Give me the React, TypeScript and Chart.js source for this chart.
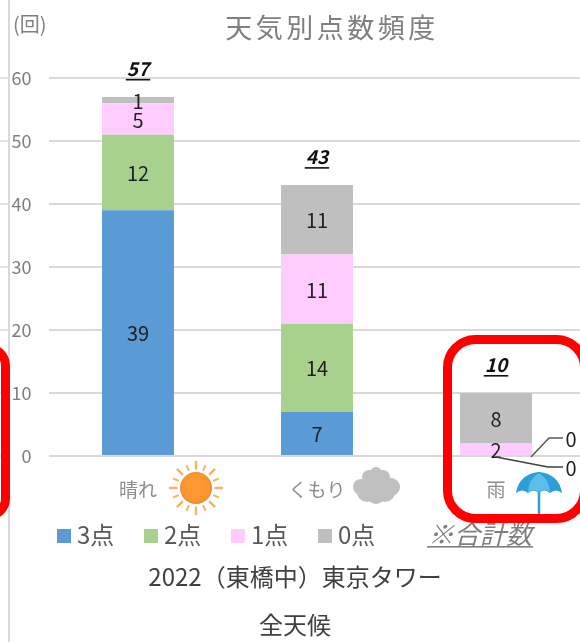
import React, { useEffect, useRef } from "react";
import { Chart, registerables } from "chart.js";

Chart.register(...registerables);

const categories = ["晴れ", "くもり", "雨"];
const points3 = [39, 7, 0];
const points2 = [12, 14, 0];
const points1 = [5, 11, 2];
const points0 = [1, 11, 8];
const totals = [57, 43, 10];
const yTicks = [0, 10, 20, 30, 40, 50, 60];
const seriesNames = ["3点", "2点", "1点", "0点"];
const totalName = "※合計数";
const chartTitle = "天気別点数頻度";
const unitLabel = "(回)";
const subTitle1 = "2022（東橋中）東京タワー";
const subTitle2 = "全天候";

const FONT = '"Noto Sans CJK JP", "Noto Sans", sans-serif';

function drawSun(c: CanvasRenderingContext2D, x: number, y: number) {
  c.save();
  c.strokeStyle = "#F7B267";
  c.lineCap = "round";
  for (let i = 0; i < 16; i++) {
    const a = (i * Math.PI) / 8;
    const long = i % 2 === 0;
    c.lineWidth = long ? 2.4 : 2;
    c.beginPath();
    c.moveTo(x + Math.cos(a) * 19.5, y + Math.sin(a) * 19.5);
    c.lineTo(x + Math.cos(a) * (long ? 26 : 24), y + Math.sin(a) * (long ? 26 : 24));
    c.stroke();
  }
  const g = c.createRadialGradient(x - 2, y - 3, 4, x, y, 16);
  g.addColorStop(0, "#FF9A33");
  g.addColorStop(0.8, "#FC9530");
  g.addColorStop(1, "#E98A2C");
  c.fillStyle = g;
  c.beginPath();
  c.arc(x, y, 16, 0, Math.PI * 2);
  c.fill();
  c.restore();
}

function drawCloud(c: CanvasRenderingContext2D, x: number, y: number) {
  c.save();
  c.fillStyle = "#C0C0C0";
  const blobs = [
    [0, -13, 6],
    [-7, -9, 7],
    [7, -9, 7],
    [-15, 1, 8],
    [15, 1, 9],
    [-9, 6, 10],
    [9, 6, 10],
    [0, 0, 12],
    [0, 9, 9],
  ];
  for (const [dx, dy, r] of blobs) {
    c.beginPath();
    c.arc(x + dx, y + dy, r, 0, Math.PI * 2);
    c.fill();
  }
  c.restore();
}

function drawUmbrella(c: CanvasRenderingContext2D, x: number, y: number) {
  c.save();
  c.strokeStyle = "#29A0DA";
  c.lineWidth = 2.5;
  c.beginPath();
  c.moveTo(x, y);
  c.lineTo(x, y + 42);
  c.stroke();
  c.fillStyle = "#2A9FD8";
  c.beginPath();
  c.moveTo(x - 23, y + 21);
  c.quadraticCurveTo(x - 20, y + 2, x, y);
  c.quadraticCurveTo(x + 20, y + 2, x + 23, y + 21);
  c.quadraticCurveTo(x + 17, y + 16, x + 11, y + 21);
  c.quadraticCurveTo(x + 5, y + 16, x, y + 21);
  c.quadraticCurveTo(x - 5, y + 16, x - 11, y + 21);
  c.quadraticCurveTo(x - 17, y + 16, x - 23, y + 21);
  c.fill();
  c.fillStyle = "#5DBDEA";
  c.beginPath();
  c.moveTo(x, y + 1);
  c.quadraticCurveTo(x + 11, y + 8, x + 11, y + 20);
  c.quadraticCurveTo(x + 5, y + 16, x, y + 20);
  c.quadraticCurveTo(x - 5, y + 16, x - 11, y + 20);
  c.quadraticCurveTo(x - 11, y + 8, x, y + 1);
  c.fill();
  c.restore();
}

const overlayPlugin = {
  id: "overlay",
  afterDraw(chart: any) {
    const c: CanvasRenderingContext2D = chart.ctx;
    const xs = chart.scales.x;
    const ys = chart.scales.y;
    c.save();

    // left frame line and the cut-off tick marks
    c.strokeStyle = "#D9D9D9";
    c.lineWidth = 2;
    c.beginPath();
    c.moveTo(9, 0);
    c.lineTo(9, 642);
    c.stroke();
    c.lineWidth = 1.5;
    for (const t of yTicks) {
      c.beginPath();
      c.moveTo(0, ys.getPixelForValue(t));
      c.lineTo(8, ys.getPixelForValue(t));
      c.stroke();
    }

    // title and unit
    c.textAlign = "center";
    c.textBaseline = "middle";
    c.fillStyle = "#7F7F7F";
    c.font = `27px ${FONT}`;
    (c as any).letterSpacing = "3.5px";
    c.fillText(chartTitle, 332, 28);
    (c as any).letterSpacing = "0px";
    c.font = `20px ${FONT}`;
    c.textAlign = "left";
    c.fillText(unitLabel, 13, 24);

    // segment value labels
    c.textAlign = "center";
    c.fillStyle = "#1F1F1F";
    c.font = `20px ${FONT}`;
    for (let d = 0; d < 4; d++) {
      const meta = chart.getDatasetMeta(d);
      const values = chart.data.datasets[d].data;
      meta.data.forEach((el: any, i: number) => {
        if (values[i] > 0) c.fillText(String(values[i]), el.x, (el.y + el.base) / 2 + 1);
      });
    }

    // rain zero labels with leader lines
    const rainX = xs.getPixelForValue(2);
    const base = ys.getPixelForValue(0);
    c.strokeStyle = "#595959";
    c.lineWidth = 1.5;
    c.beginPath();
    c.moveTo(rainX + 35, base + 1);
    c.lineTo(rainX + 53, base - 18);
    c.lineTo(rainX + 67, base - 18);
    c.stroke();
    c.strokeStyle = "#404040";
    c.beginPath();
    c.moveTo(rainX, base + 1);
    c.lineTo(rainX + 52, base + 11);
    c.lineTo(rainX + 67, base + 11);
    c.stroke();
    c.fillStyle = "#1F1F1F";
    c.fillText(String(points2[2]), rainX + 75, base - 17);
    c.fillText(String(points3[2]), rainX + 75, base + 12);

    // totals, from the line dataset
    const totalMeta = chart.getDatasetMeta(4);
    c.font = `italic bold 19px ${FONT}`;
    c.fillStyle = "#111111";
    totalMeta.data.forEach((pt: any, i: number) => {
      const label = String(totals[i]);
      const ty = pt.y - 28;
      c.fillText(label, pt.x, ty);
      const w = c.measureText(label).width;
      c.fillRect(pt.x - w / 2 - 1, ty + 10, w + 2, 1.6);
    });

    // category icons
    drawSun(c, xs.getPixelForValue(0) + 58, 488);
    drawCloud(c, xs.getPixelForValue(1) + 59, 486);
    drawUmbrella(c, rainX + 43, 472);

    // legend
    c.textAlign = "left";
    c.font = `24px ${FONT}`;
    chart.data.datasets.slice(0, 4).forEach((ds: any, i: number) => {
      const lx = 57 + i * 87;
      c.fillStyle = ds.backgroundColor;
      c.fillRect(lx, 529, 14, 14);
      c.fillStyle = "#595959";
      c.fillText(ds.label, lx + 20, 535);
    });
    c.font = `italic 26px ${FONT}`;
    c.fillStyle = "#7F7F7F";
    c.fillText(chart.data.datasets[4].label, 428, 534);
    c.fillRect(427, 546, 106, 1.6);

    // subtitles
    c.textAlign = "center";
    c.fillStyle = "#404040";
    c.font = `24px ${FONT}`;
    c.fillText(subTitle1, 295, 577);
    c.fillText(subTitle2, 295, 625);

    // red call-outs
    c.strokeStyle = "#FF0000";
    c.lineWidth = 9;
    c.beginPath();
    c.roundRect(-30, 348, 35.5, 168, 26);
    c.stroke();
    c.beginPath();
    c.roundRect(447.5, 339.5, 137, 179, 28);
    c.stroke();
    c.restore();
  },
};

export default function App() {
  const ref = useRef<HTMLCanvasElement | null>(null);
  useEffect(() => {
    if (!ref.current) return;
    const segment = (label: string, data: number[], color: string) => ({
      type: "bar" as const,
      label,
      data,
      backgroundColor: color,
      barPercentage: 1,
      categoryPercentage: 0.402,
    });
    const chart = new Chart(ref.current, {
      type: "bar",
      data: {
        labels: categories,
        datasets: [
          segment(seriesNames[0], points3, "#5B9BD5"),
          segment(seriesNames[1], points2, "#A9D18E"),
          segment(seriesNames[2], points1, "#FFCCFF"),
          segment(seriesNames[3], points0, "#BFBFBF"),
          {
            type: "line" as const,
            label: totalName,
            data: totals,
            showLine: false,
            pointRadius: 0,
            borderColor: "transparent",
            backgroundColor: "transparent",
          },
        ],
      },
      options: {
        animation: false,
        responsive: false,
        layout: { padding: { top: 78, right: 14.5, bottom: 0, left: 0 } },
        plugins: {
          legend: { display: false },
          title: { display: false },
          tooltip: { enabled: false },
        },
        scales: {
          x: {
            stacked: true,
            grid: { display: false },
            border: { display: false },
            afterFit: (s: any) => {
              s.height = 186;
            },
            ticks: {
              color: "#8C8C8C",
              padding: 14,
              font: { family: FONT, size: 19 },
              maxRotation: 0,
            },
          },
          y: {
            stacked: true,
            min: 0,
            max: 60,
            afterFit: (s: any) => {
              s.width = 48.5;
            },
            grid: { color: "#D9D9D9", lineWidth: 2, drawTicks: false },
            border: { display: false },
            ticks: {
              stepSize: 10,
              color: "#7F7F7F",
              padding: 17,
              font: { family: FONT, size: 18 },
            },
          },
        },
      },
      plugins: [overlayPlugin],
    } as any);
    return () => chart.destroy();
  }, []);
  return (
    <div style={{ position: "absolute", left: 0, top: 0, width: 580, height: 642, overflow: "hidden", background: "#fff" }}>
      <canvas ref={ref} width={600} height={642} style={{ display: "block" }} />
    </div>
  );
}
